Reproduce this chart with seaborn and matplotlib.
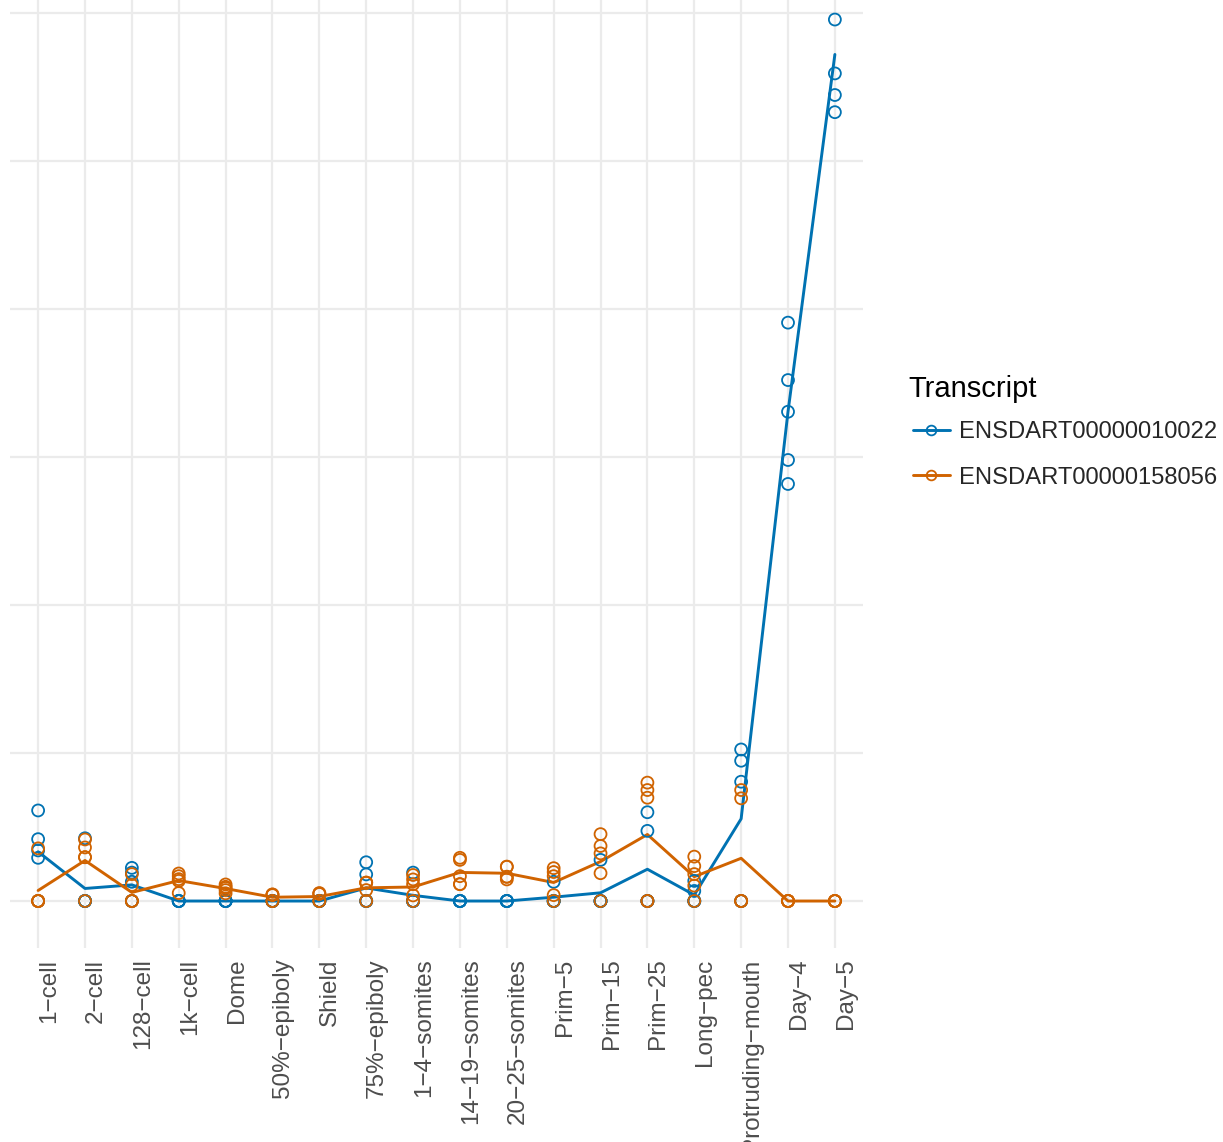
import pandas as pd
import matplotlib.pyplot as plt
import seaborn as sns
import numpy as np
from matplotlib.lines import Line2D

# stages of zebrafish development (x axis)
stages = ['1\u2212cell', '2\u2212cell', '128\u2212cell', '1k\u2212cell', 'Dome', '50%\u2212epiboly',
          'Shield', '75%\u2212epiboly', '1\u22124\u2212somites', '14\u221219\u2212somites',
          '20\u221225\u2212somites', 'Prim\u22125', 'Prim\u221215', 'Prim\u221225', 'Long\u2212pec',
          'Protruding\u2212mouth', 'Day\u22124', 'Day\u22125']

transcripts = ['ENSDART00000010022', 'ENSDART00000158056']

# replicate expression values per stage
expr_010022 = [
    [30.6, 20.9, 17.1, 14.6, 0.0],
    [21.2, 0.0, 0.0, 0.0, 0.0],
    [11.2, 9.6, 6.5, 0.0, 0.0],
    [0.0, 0.0, 0.0, 0.0, 0.0],
    [0.0, 0.0, 0.0, 0.0, 0.0],
    [0.0, 0.0, 0.0, 0.0, 0.0],
    [0.0, 0.0, 0.0, 0.0, 0.0],
    [13.1, 9.0, 0.0, 0.0, 0.0],
    [9.6, 0.0, 0.0, 0.0, 0.0],
    [0.0, 0.0, 0.0, 0.0, 0.0],
    [0.0, 0.0, 0.0, 0.0, 0.0],
    [6.5, 0.0, 0.0, 0.0, 0.0],
    [13.9, 0.0, 0.0, 0.0, 0.0],
    [30.0, 23.7, 0.0, 0.0, 0.0],
    [6.8, 3.4, 0.0, 0.0, 0.0],
    [51.2, 47.4, 40.3, 0.0, 0.0],
    [195.4, 176.0, 165.3, 149.0, 140.9],
    [313.8, 297.8, 279.6, 272.3, 266.5],
]

expr_158056 = [
    [17.8, 0.0, 0.0, 0.0, 0.0],
    [20.8, 18.1, 14.8, 14.8, 0.0],
    [9.1, 5.4, 0.0, 0.0, 0.0],
    [9.3, 8.4, 7.4, 6.8, 2.7],
    [5.6, 4.8, 4.4, 3.7, 2.6],
    [2.2, 2.2, 2.0, 0.0, 0.0],
    [2.7, 2.5, 2.4, 0.0, 0.0],
    [6.2, 6.2, 6.2, 3.7, 0.0],
    [8.8, 7.3, 5.7, 1.9, 0.0],
    [14.6, 13.9, 8.4, 5.7, 5.7],
    [11.6, 11.6, 8.2, 8.2, 7.3],
    [11.1, 9.8, 8.4, 2.0, 0.0],
    [22.6, 18.6, 16.1, 9.4, 0.0],
    [40.0, 37.5, 34.9, 0.0, 0.0],
    [15.0, 11.8, 9.1, 5.2, 0.0],
    [37.5, 34.7, 0.0, 0.0, 0.0],
    [0.0, 0.0, 0.0, 0.0, 0.0],
    [0.0, 0.0, 0.0, 0.0, 0.0],
]

colors = ['#0072B2', '#D06300']

# long format table
rows = []
for name, expr in zip(transcripts, [expr_010022, expr_158056]):
    for i, reps in enumerate(expr):
        for v in reps:
            rows.append({'Stage': i, 'Expression': v, 'Transcript': name})
df = pd.DataFrame(rows)

sns.set_theme(style='white')
plt.rcParams['font.family'] = ['Liberation Sans', 'DejaVu Sans']

fig = plt.figure(figsize=(12.23, 11.42), dpi=100)
ax = fig.add_axes([10 / 1223, 1 - 947.5 / 1142, 853 / 1223, (947.5 + 74.3) / 1142])

# mean line per transcript
sns.lineplot(data=df, x='Stage', y='Expression', hue='Transcript', palette=colors,
             estimator='mean', errorbar=None, linewidth=2.1, legend=False, ax=ax, zorder=3)

# replicate points as open circles
sns.scatterplot(data=df, x='Stage', y='Expression', hue='Transcript', palette=colors,
                s=74, marker='o', legend=False, ax=ax, zorder=4)
for coll in ax.collections:
    fc = coll.get_facecolors()
    coll.set_edgecolors(fc)
    coll.set_facecolors('none')
    coll.set_linewidths(1.3)

ax.set_xlim(-0.6, 17.6)
ax.set_ylim(-15.7, 329.5)
ax.set_xticks(range(len(stages)))
ax.set_xticklabels(stages, rotation=90, ha='left', va='top', fontsize=17.5, color='#4D4D4D')
ax.set_yticks([0, 100, 200, 300])
ax.set_yticks([50, 150, 250], minor=True)
ax.set_yticklabels([])
ax.tick_params(axis='both', which='both', length=0, pad=8)
ax.grid(True, which='both', color='#EBEBEB', linewidth=1.6)
ax.set_axisbelow(True)
ax.set_xlabel('')
ax.set_ylabel('')
for s in ax.spines.values():
    s.set_visible(False)

# legend: title as text, keys below it
fig.text(908 / 1223, 1 - 397 / 1142, 'Transcript', fontsize=21, color='black',
         ha='left', va='baseline')
handles = [Line2D([0], [0], color=c, linewidth=2.1, marker='o', markersize=7,
                  markerfacecolor='none', markeredgecolor=c, markeredgewidth=1.3)
           for c in colors]
fig.legend(handles, transcripts, loc='upper left',
           bbox_to_anchor=(901 / 1223, 1 - 409 / 1142), frameon=False,
           fontsize=17.1, handlelength=1.55, handletextpad=0.4,
           labelspacing=1.0, borderpad=0)

plt.savefig('out.png', dpi=100)
plt.close()
